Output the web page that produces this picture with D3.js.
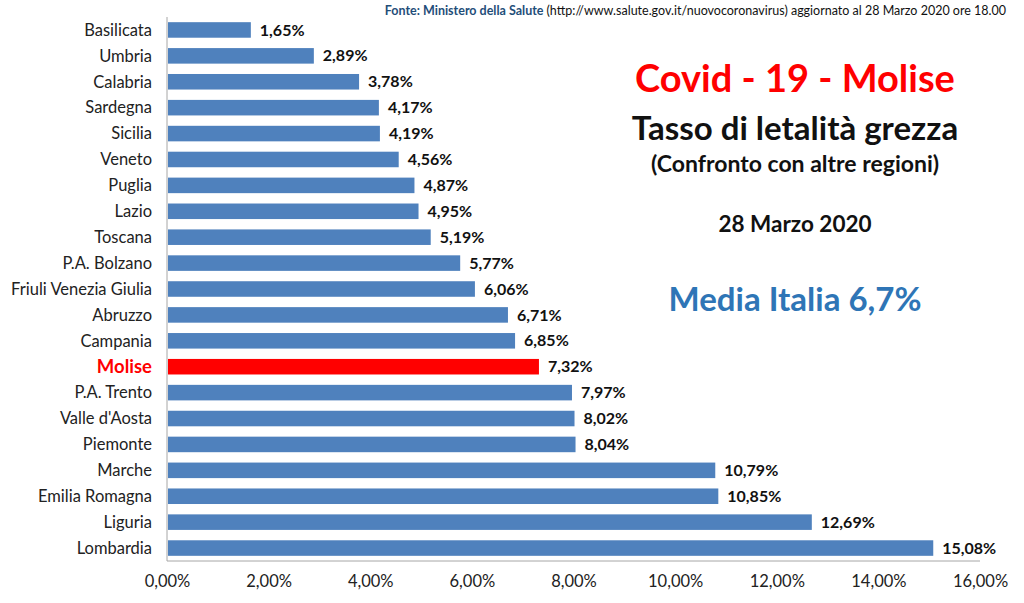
<!DOCTYPE html>
<html><head><meta charset="utf-8">
<script src="https://cdn.jsdelivr.net/npm/d3@7"></script>
<style>body{margin:0;background:#fff}svg{display:block;font-family:Lato,"Open Sans",sans-serif}</style>
</head><body>
<svg id="c" width="1024" height="603"></svg>
<script>
const regions = ["Basilicata","Umbria","Calabria","Sardegna","Sicilia","Veneto","Puglia","Lazio","Toscana","P.A. Bolzano","Friuli Venezia Giulia","Abruzzo","Campania","Molise","P.A. Trento","Valle d'Aosta","Piemonte","Marche","Emilia Romagna","Liguria","Lombardia"];
const rates = [1.65,2.89,3.78,4.17,4.19,4.56,4.87,4.95,5.19,5.77,6.06,6.71,6.85,7.32,7.97,8.02,8.04,10.79,10.85,12.69,15.08];
const tickValues = [0,2,4,6,8,10,12,14,16];
const highlight = "Molise";

const svg = d3.select("#c");
const x = d3.scaleLinear().domain([0,16]).range([167,980]);
const y = d3.scaleBand().domain(regions).range([17,561]).paddingInner(0.4).paddingOuter(0.2);
const fmt = v => v.toFixed(2).replace(".",",") + "%";

// axes lines
svg.append("line").attr("x1",167).attr("x2",167).attr("y1",17).attr("y2",561).attr("stroke","#a6a6a6");
svg.append("line").attr("x1",167).attr("x2",980).attr("y1",561).attr("y2",561).attr("stroke","#a6a6a6");

const xAxis = d3.axisBottom(x).tickValues(tickValues).tickSize(0).tickPadding(14).tickFormat(fmt);
const gx = svg.append("g").attr("transform","translate(0,561)").call(xAxis);
gx.select(".domain").remove();
gx.selectAll("text").attr("font-size",16.5).attr("fill","#222").attr("font-family","Lato,sans-serif");

svg.selectAll("rect.bar").data(regions).join("rect")
  .attr("x",x(0)+1).attr("y",d=>y(d)).attr("height",y.bandwidth())
  .attr("width",(d,i)=>x(rates[i])-x(0)-1)
  .attr("fill",d=>d===highlight?"#ff0000":"#4f81bd");

svg.selectAll("text.lab").data(regions).join("text")
  .attr("x",152).attr("y",d=>y(d)+y.bandwidth()/2).attr("dy","0.35em")
  .attr("text-anchor","end").attr("font-size",d=>d===highlight?18.5:16.5)
  .attr("font-weight",d=>d===highlight?"bold":"normal")
  .attr("fill",d=>d===highlight?"#ff0000":"#222").text(d=>d);

svg.selectAll("text.val").data(regions).join("text")
  .attr("x",(d,i)=>x(rates[i])+9).attr("y",d=>y(d)+y.bandwidth()/2).attr("dy","0.35em")
  .attr("font-size",16).attr("font-weight","bold").attr("fill","#111")
  .text((d,i)=>fmt(rates[i]));

// titles
const cx = 795;
svg.append("text").attr("x",cx).attr("y",92).attr("text-anchor","middle").attr("font-size",38).attr("font-weight","bold").attr("fill","#ff0000").text("Covid - 19 - Molise");
svg.append("text").attr("x",cx).attr("y",140).attr("text-anchor","middle").attr("font-size",33).attr("font-weight","bold").attr("fill","#111").text("Tasso di letalità grezza");
svg.append("text").attr("x",cx).attr("y",172).attr("text-anchor","middle").attr("font-size",23).attr("font-weight","bold").attr("fill","#111").text("(Confronto con altre regioni)");
svg.append("text").attr("x",cx).attr("y",232).attr("text-anchor","middle").attr("font-size",22.5).attr("font-weight","bold").attr("fill","#111").text("28 Marzo 2020");
svg.append("text").attr("x",cx).attr("y",311).attr("text-anchor","middle").attr("font-size",33).attr("font-weight","bold").attr("fill","#2e75b6").text("Media Italia 6,7%");

const src = svg.append("text").attr("x",1006).attr("y",15).attr("text-anchor","end").attr("font-size",12.5).attr("fill","#111");
src.append("tspan").attr("font-weight","bold").attr("fill","#1f4e79").text("Fonte: Ministero della Salute ");
src.append("tspan").text("(http://www.salute.gov.it/nuovocoronavirus) aggiornato al 28 Marzo 2020 ore 18.00");
</script>
</body></html>
